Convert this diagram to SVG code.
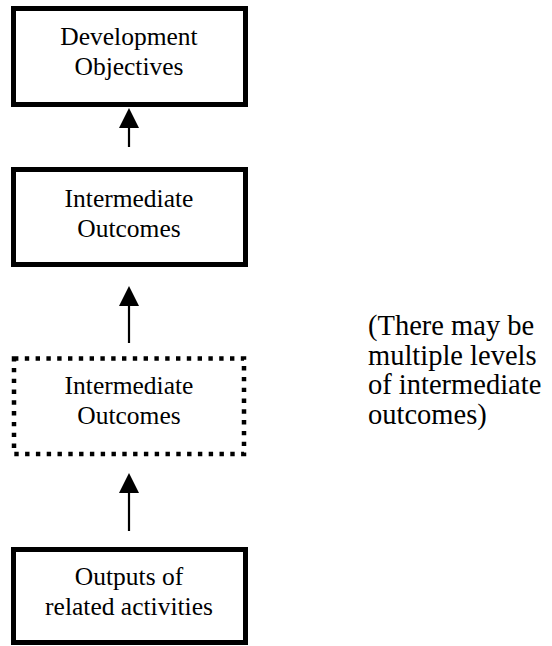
<svg xmlns="http://www.w3.org/2000/svg" width="552" height="646" viewBox="0 0 552 646">
<style>
.box{fill:#fff;stroke:#000;stroke-width:5}
.dot{fill:#fff;stroke:#000;stroke-width:4.5;stroke-dasharray:4.4 6.4}
.t{font-family:"Liberation Serif","Times New Roman",serif;font-size:25.5px;fill:#000;text-anchor:middle}
.s{font-family:"Liberation Serif","Times New Roman",serif;font-size:28.5px;fill:#000}
.ln{stroke:#000;stroke-width:2.2;fill:none}
.ah{fill:#000}
</style>
<rect width="552" height="646" fill="#fff"/>
<g id="connectors">
<line class="ln" x1="129" y1="125" x2="129" y2="147"/>
<polygon class="ah" points="129,108 119,128 139,128"/>
<line class="ln" x1="129" y1="303" x2="129" y2="343"/>
<polygon class="ah" points="129,286 119,306 139,306"/>
<line class="ln" x1="129" y1="490" x2="129" y2="531"/>
<polygon class="ah" points="129,473 119,493 139,493"/>
</g>
<g id="dev-objectives">
<rect class="box" x="13.5" y="8.5" width="232" height="96"/>
<text class="t" x="129" y="45">Development</text>
<text class="t" x="129" y="75">Objectives</text>
</g>
<g id="intermediate-1">
<rect class="box" x="13.5" y="169.5" width="232" height="95"/>
<text class="t" x="129" y="207">Intermediate</text>
<text class="t" x="129" y="237">Outcomes</text>
</g>
<g id="intermediate-2">
<rect class="dot" x="14" y="358.5" width="230" height="95.5"/>
<text class="t" x="129" y="394">Intermediate</text>
<text class="t" x="129" y="424">Outcomes</text>
</g>
<g id="outputs">
<rect class="box" x="13.5" y="549.5" width="232" height="93"/>
<text class="t" x="129" y="585">Outputs of</text>
<text class="t" x="129" y="615">related activities</text>
</g>
<g id="note">
<text class="s" x="368" y="335">(There may be</text>
<text class="s" x="368" y="365">multiple levels</text>
<text class="s" x="368" y="394">of intermediate</text>
<text class="s" x="368" y="424">outcomes)</text>
</g>
</svg>
